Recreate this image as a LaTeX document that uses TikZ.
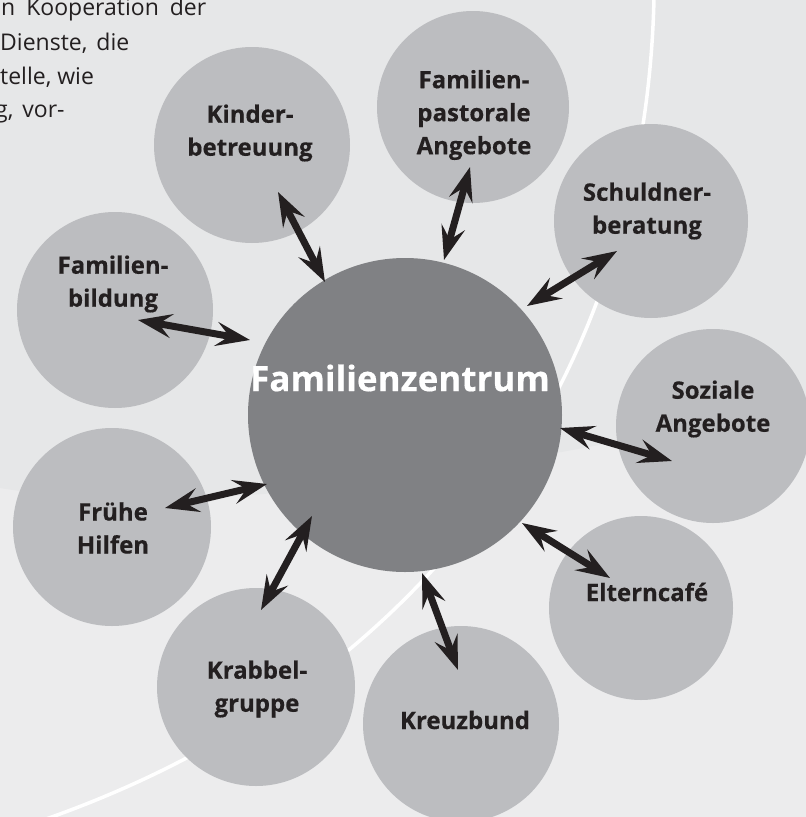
\documentclass[tikz,border=0pt]{standalone}
\usepackage{fontspec}
\setmainfont{Open Sans}
\newfontfamily\lblfont{Open Sans}[BoldFeatures={FakeBold=0.4}]
\usetikzlibrary{arrows.meta}
\definecolor{bgl}{HTML}{ECECED}
\definecolor{bgd}{HTML}{E6E7E8}
\definecolor{bub}{HTML}{BCBDC0}
\definecolor{hub}{HTML}{808184}
\definecolor{ink}{HTML}{231F20}
\begin{document}
\begin{tikzpicture}[x=1pt,y=-1pt,
  bubble/.style={circle, fill=bub, inner sep=0pt, minimum size=#1},
  lbl/.style={font=\lblfont\bfseries\fontsize{24}{33}\selectfont, text=ink, align=center, inner sep=0pt},
  body/.style={font=\fontsize{23}{34}\selectfont, text=ink, anchor=base west, inner sep=0pt},
  link/.style={draw=ink, line width=7pt, {Stealth[length=34pt,width=24pt,inset=13pt]}-{Stealth[length=34pt,width=24pt,inset=13pt]}}]
\useasboundingbox (0,0) rectangle (806,817);
\clip (0,0) rectangle (806,817);
% background
\fill[bgl] (0,0) rectangle (806,817);
\fill[bgd] (0,0) -- (0,488) .. controls (230,525) and (520,460) .. (806,405) -- (806,0) -- cycle;
\draw[white, line width=3.5pt] (654,-2) .. controls (645,400) and (400,720) .. (-20,840);
% body text
\node[body] (t1) at (1,15) {n\hspace{11pt}Kooperation\hspace{11pt}der};
\node[body] (t2) at (0,50) {Dienste,\hspace{9pt}die};
\node[body] (t3) at (0,84) {telle, wie};
\node[body] (t4) at (-5,117) {g,\hspace{9pt}vor-};
% circles
\node[bubble=196pt] (kinder) at (252,145) {};
\node[bubble=192pt] (pastoral) at (473,107) {};
\node[bubble=194pt] (schuld) at (651,221) {};
\node[bubble=196pt] (bildung) at (115,310) {};
\node[bubble=198pt] (fruehe) at (112,527) {};
\node[bubble=194pt] (sozial) at (713,426) {};
\node[bubble=184pt] (eltern) at (641,608) {};
\node[bubble=196pt] (kreuz) at (461,724) {};
\node[bubble=198pt] (krabbel) at (256,687) {};
\node[circle, fill=hub, inner sep=0pt, minimum size=314pt] (zentrum) at (405,415) {};
% labels
\node[lbl] (kinder-t) at (250,133) {Kinder-\\betreuung};
\node[lbl] (pastoral-t) at (474,115) {Familien-\\pastorale\\Angebote};
\node[lbl] (schuld-t) at (647,211) {Schuldner-\\beratung};
\node[lbl] (bildung-t) at (113,284) {Familien-\\bildung};
\node[lbl] (fruehe-t) at (113,528) {Frühe\\Hilfen};
\node[lbl] (sozial-t) at (713,409) {Soziale\\Angebote};
\node[lbl] (eltern-t) at (647,592) {Elterncafé};
\node[lbl] (kreuz-t) at (465,720) {Kreuzbund};
\node[lbl] (krabbel-t) at (257,689) {Krabbel-\\gruppe};
\node[font=\lblfont\bfseries\fontsize{35}{40}\selectfont, text=white, inner sep=0pt] (zentrum-t) at (400,378) {Familienzentrum};
% arrow end points
\coordinate (a1) at (278,192); \coordinate (b1) at (325,282);
\coordinate (a2) at (470,167); \coordinate (b2) at (444,260);
\coordinate (a3) at (617,251); \coordinate (b3) at (527,306);
\coordinate (a4) at (138,320); \coordinate (b4) at (250,340);
\coordinate (a5) at (165,508); \coordinate (b5) at (267,484);
\coordinate (a6) at (672,461); \coordinate (b6) at (560,428);
\coordinate (a7) at (610,578); \coordinate (b7) at (522,523);
\coordinate (a8) at (458,670); \coordinate (b8) at (422,573);
\coordinate (a9) at (261,610); \coordinate (b9) at (312,516);
\foreach \i in {1,...,9} { \draw[link] (a\i) -- (b\i); }
\end{tikzpicture}
\end{document}
